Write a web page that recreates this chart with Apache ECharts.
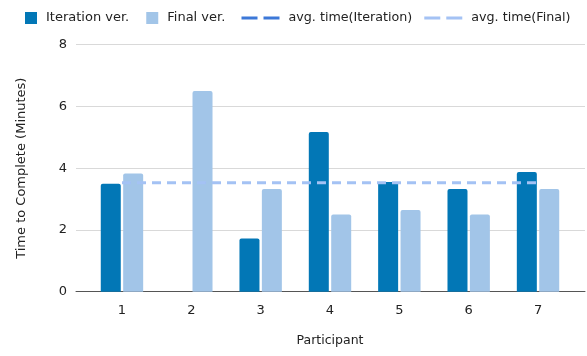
<!DOCTYPE html>
<html>
<head>
<meta charset="utf-8">
<script src="https://cdn.jsdelivr.net/npm/echarts@6/dist/echarts.min.js"></script>
<style>
  html, body { margin: 0; padding: 0; background: #fff; }
  #chart { width: 587px; height: 356px; }
</style>
</head>
<body>
<div id="chart"></div>
<script>
// Task completion times per participant, in minutes
const participants = ['1', '2', '3', '4', '5', '6', '7'];
const iterationTimes = [3.5, null, 1.72, 5.17, 3.55, 3.33, 3.88];
const finalTimes = [3.83, 6.5, 3.33, 2.5, 2.65, 2.5, 3.33];
const avgIteration = [3.53, 3.53, 3.53, 3.53, 3.53, 3.53, 3.53];
const avgFinal = [3.53, 3.53, 3.53, 3.53, 3.53, 3.53, 3.53];
const yTicks = { min: 0, max: 8, step: 2 };

const FONT = 'DejaVu Sans';
const DARK = '#0277b6';
const LIGHT = '#a2c5e8';
const AVG_DARK = '#3c78d8';
const AVG_LIGHT = '#a4c2f4';
// two short dashes, used as the legend marker of the average lines
const DASH_ICON = 'path://M0,0h16v3h-16zM22,0h16v3h-16z';

const chart = echarts.init(document.getElementById('chart'), null, { renderer: 'canvas' });

const legendText = { fontFamily: FONT, fontSize: 13, color: '#222', padding: [0, 0, 0, 4] };

chart.setOption({
  animation: false,
  backgroundColor: '#ffffff',
  textStyle: { fontFamily: FONT },
  legend: [
    {
      left: 20, top: 6.5,
      itemWidth: 12, itemHeight: 12, itemGap: 17,
      icon: 'rect',
      textStyle: legendText,
      data: ['Iteration ver.', 'Final ver.']
    },
    {
      left: 236.5, top: 6.5,
      itemWidth: 38, itemHeight: 3, itemGap: 12,
      icon: DASH_ICON,
      textStyle: Object.assign({}, legendText, { fontSize: 12.7 }),
      data: ['avg. time(Iteration)', 'avg. time(Final)']
    }
  ],
  grid: [
    { left: 76, right: 2, top: 44.7, bottom: 64.3 },
    { left: 87.3, right: 14.3, top: 44.7, bottom: 64.3 }
  ],
  xAxis: [
    {
      gridIndex: 0, type: 'value', min: 0, max: 1,
      axisLine: { show: true, lineStyle: { color: '#555', width: 1 } },
      axisTick: { show: false }, axisLabel: { show: false }, splitLine: { show: false }
    },
    {
      gridIndex: 1, type: 'category', data: participants,
      axisLine: { show: false }, axisTick: { show: false },
      axisLabel: { fontFamily: FONT, fontSize: 13, color: '#222', margin: 12 },
      name: 'Participant', nameLocation: 'middle', nameGap: 43,
      nameTextStyle: { fontFamily: FONT, fontSize: 12.5, color: '#222' }
    }
  ],
  yAxis: [
    {
      gridIndex: 0, type: 'value', min: yTicks.min, max: yTicks.max, interval: yTicks.step,
      axisLine: { show: false }, axisTick: { show: false },
      axisLabel: { fontFamily: FONT, fontSize: 13, color: '#222', margin: 9 },
      splitLine: { lineStyle: { color: '#d9d9d9', width: 1 } },
      name: 'Time to Complete (Minutes)', nameLocation: 'middle', nameGap: 48,
      nameTextStyle: { fontFamily: FONT, fontSize: 13, color: '#222' }
    },
    {
      gridIndex: 1, type: 'value', min: yTicks.min, max: yTicks.max, interval: yTicks.step,
      show: false
    }
  ],
  series: [
    {
      name: 'Iteration ver.', type: 'bar', xAxisIndex: 1, yAxisIndex: 1,
      data: iterationTimes, barWidth: 20, barGap: '12%',
      itemStyle: { color: DARK, borderRadius: [2, 2, 0, 0] }
    },
    {
      name: 'Final ver.', type: 'bar', xAxisIndex: 1, yAxisIndex: 1,
      data: finalTimes, barWidth: 20,
      itemStyle: { color: LIGHT, borderRadius: [2, 2, 0, 0] }
    },
    {
      name: 'avg. time(Iteration)', type: 'line', xAxisIndex: 1, yAxisIndex: 1,
      data: avgIteration, symbol: 'none', z: 5,
      itemStyle: { color: AVG_DARK },
      lineStyle: { color: AVG_DARK, width: 1.5, type: [9, 6] }
    },
    {
      name: 'avg. time(Final)', type: 'line', xAxisIndex: 1, yAxisIndex: 1,
      data: avgFinal, symbol: 'none', z: 6,
      itemStyle: { color: AVG_LIGHT },
      lineStyle: { color: AVG_LIGHT, width: 3, type: [9, 6] }
    }
  ]
});
</script>
</body>
</html>
